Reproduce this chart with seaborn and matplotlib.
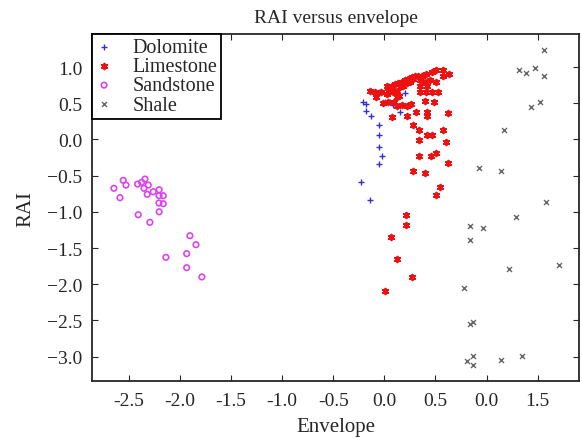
import pandas as pd
import matplotlib
matplotlib.use('Agg')
import matplotlib.pyplot as plt
import seaborn as sns

# данные
dolomite_x = [-0.207, -0.181, -0.181, -0.135, -0.051, 0.005, 0.054, 0.086, 0.201, 0.152,
              -0.051, -0.051, -0.051, -0.027, -0.051, -0.233, -0.142]
dolomite_y = [0.521, 0.489, 0.396, 0.327, 0.659, 0.521, 0.512, 0.479, 0.637, 0.374,
              0.203, 0.061, -0.100, -0.225, -0.340, -0.593, -0.833]

limestone_x = [0.510, 0.576, 0.634, 0.462, 0.406, 0.373, 0.331, 0.298, 0.266, 0.233,
               0.201, 0.168, 0.135, 0.103, 0.070, 0.047, 0.021, 0.038, 0.086, 0.119,
               0.152, 0.184, 0.217, 0.250, 0.282, 0.347, 0.396, 0.445, 0.510, 0.576,
               -0.142, -0.093, -0.083, -0.028, -0.018, 0.028, 0.038, 0.093, 0.119, 0.145,
               0.119, 0.168, 0.217, 0.256, 0.347, 0.406, 0.462, 0.347, 0.413, 0.527,
               0.396, 0.484, 0.308, 0.419, 0.419, 0.625, 0.070, 0.217, 0.276, 0.341,
               0.341, 0.419, 0.471, 0.576, 0.608, 0.341, 0.452, 0.510, 0.625, 0.276,
               0.396, 0.543, 0.510, 0.210, 0.210, 0.064, 0.122, 0.272, 0.005]
limestone_y = [0.963, 0.963, 0.908, 0.926, 0.903, 0.880, 0.880, 0.871, 0.857, 0.834,
               0.825, 0.797, 0.779, 0.765, 0.742, 0.719, 0.733, 0.673, 0.650, 0.673,
               0.719, 0.742, 0.779, 0.797, 0.834, 0.825, 0.788, 0.825, 0.797, 0.871,
               0.664, 0.659, 0.590, 0.650, 0.503, 0.627, 0.521, 0.521, 0.581, 0.604,
               0.457, 0.475, 0.457, 0.489, 0.650, 0.650, 0.650, 0.742, 0.742, 0.650,
               0.535, 0.521, 0.383, 0.383, 0.328, 0.360, 0.305, 0.328, 0.203, 0.134,
               -0.004, 0.061, 0.061, 0.134, -0.041, -0.225, -0.225, -0.188, -0.326, -0.441,
               -0.464, -0.662, -0.763, -1.040, -1.178, -1.344, -1.648, -1.901, -2.098]

sandstone_x = [-2.647, -2.556, -2.529, -2.588, -2.415, -2.376, -2.343, -2.353, -2.311, -2.321,
               -2.262, -2.204, -2.206, -2.164, -2.206, -2.164, -2.204, -2.409, -2.295, -1.903,
               -1.844, -2.138, -1.935, -1.935, -1.786]
sandstone_y = [-0.675, -0.565, -0.630, -0.805, -0.616, -0.593, -0.547, -0.675, -0.630, -0.758,
               -0.722, -0.695, -0.777, -0.777, -0.878, -0.888, -0.999, -1.040, -1.145, -1.330,
               -1.454, -1.629, -1.578, -1.772, -1.900]

shale_x = [1.561, 1.316, 1.382, 1.473, 1.564, 1.433, 1.522, 1.169, 0.928, 1.140,
           1.587, 1.287, 0.843, 0.961, 0.843, 1.221, 1.707, 0.781, 0.843, 0.869,
           0.810, 0.869, 0.869, 1.140, 1.348]
shale_y = [1.235, 0.963, 0.913, 0.982, 0.872, 0.443, 0.512, 0.134, -0.399, -0.441,
           -0.869, -1.076, -1.200, -1.228, -1.394, -1.794, -1.735, -2.057, -2.550, -2.518,
           -3.065, -2.996, -3.112, -3.047, -2.996]

x_ticks = [-2.5, -2.0, -1.5, -1.0, -0.5, 0.0, 0.5, 1.0, 1.5]
x_tick_labels = ['-2.5', '-2.0', '-1.5', '-1.0', '-0.5', '0.0', '0.5', '0.0', '1.5']
y_ticks = [1.0, 0.5, 0.0, -0.5, -1.0, -1.5, -2.0, -2.5, -3.0]

groups = {
    'Dolomite': (dolomite_x, dolomite_y),
    'Limestone': (limestone_x, limestone_y),
    'Sandstone': (sandstone_x, sandstone_y),
    'Shale': (shale_x, shale_y),
}
frames = []
for name, (xs, ys) in groups.items():
    frames.append(pd.DataFrame({'Envelope': xs, 'RAI': ys, 'Lithology': name}))
df = pd.concat(frames, ignore_index=True)

sns.set_style('ticks')
plt.rcParams['font.family'] = ['Liberation Serif', 'DejaVu Serif']
plt.rcParams['xtick.direction'] = 'in'
plt.rcParams['ytick.direction'] = 'in'

fig = plt.figure(figsize=(5.82, 4.39), dpi=100)
ax = fig.add_axes([0.158, 0.130, 0.837, 0.790])

# стили маркеров для каждой породы
styles = {
    'Dolomite': dict(marker='+', color='#3333cc', s=22, linewidth=1.0),
    'Limestone': dict(marker=(6, 2, 0), color='#ee1111', s=16, linewidth=1.4),
    'Sandstone': dict(marker='o', facecolors='none', edgecolor='#dd44ee', s=16, linewidth=1.2),
    'Shale': dict(marker='x', color='#666666', s=13, linewidth=1.0),
}
for name in groups:
    sub = df[df['Lithology'] == name]
    sns.scatterplot(data=sub, x='Envelope', y='RAI', ax=ax, label=name, **styles[name])

ax.set_xlim(-2.862, 1.906)
ax.set_ylim(-3.337, 1.456)
ax.set_xticks(x_ticks)
ax.set_xticklabels(x_tick_labels)
ax.set_yticks(y_ticks)
ax.tick_params(top=True, right=True, labelsize=14, length=4, width=0.8)
ax.tick_params(axis='x', pad=8)
ax.tick_params(axis='y', pad=7)
for sp in ax.spines.values():
    sp.set_linewidth(1.3)

ax.set_title('RAI versus envelope', fontsize=14, pad=9)
ax.set_xlabel('Envelope', fontsize=15, labelpad=6)
ax.set_ylabel('RAI', fontsize=15, labelpad=8)

leg = ax.legend(loc='upper left', borderaxespad=0, fontsize=14.5, frameon=True,
                fancybox=False, handletextpad=1.0, labelspacing=0.0,
                borderpad=0.2, handlelength=0.8, markerscale=1.0)
leg.get_frame().set_edgecolor('black')
leg.get_frame().set_linewidth(1.3)
leg.get_frame().set_alpha(1)

fig.savefig('out.png', dpi=100)
